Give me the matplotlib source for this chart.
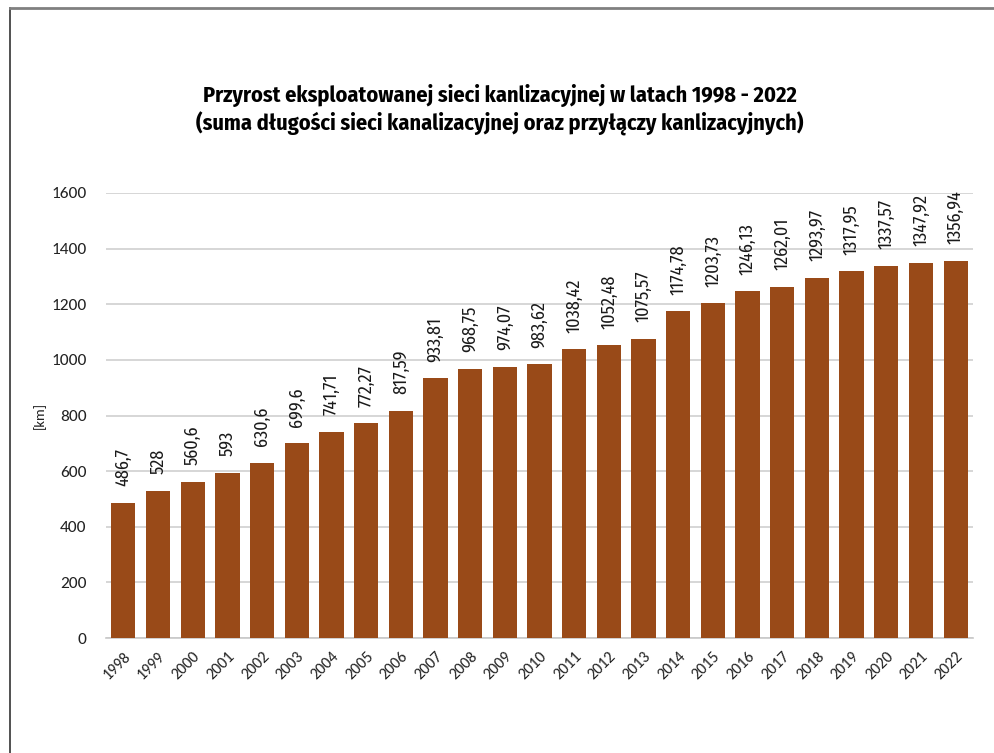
import matplotlib.pyplot as plt
from matplotlib.lines import Line2D

# data
years = [str(y) for y in range(1998, 2023)]
lengths = [486.7, 528, 560.6, 593, 630.6, 699.6, 741.71, 772.27, 817.59, 933.81,
           968.75, 974.07, 983.62, 1038.42, 1052.48, 1075.57, 1174.78, 1203.73,
           1246.13, 1262.01, 1293.97, 1317.95, 1337.57, 1347.92, 1356.94]
yticks = [0, 200, 400, 600, 800, 1000, 1200, 1400, 1600]

title = ("Przyrost eksploatowanej sieci kanlizacyjnej w latach 1998 - 2022\n"
         "(suma długości sieci kanalizacyjnej oraz przyłączy kanlizacyjnych)")

narrow = ['Fira Sans Condensed', 'DejaVu Sans']
plt.rcParams['font.family'] = ['Carlito', 'DejaVu Sans']

fig = plt.figure(figsize=(9.94, 7.53), dpi=100)
ax = fig.add_axes([106 / 994, 1 - 638 / 753, (973 - 106) / 994, (638 - 193) / 753])

x = range(len(years))
bars = ax.bar(x, lengths, width=0.7, color='#994A18', zorder=3)

# rotated value labels, Polish decimal comma
for xi, v in zip(x, lengths):
    lab = f"{v:g}".replace('.', ',')
    ax.annotate(lab, (xi, v), xytext=(0, 12), textcoords='offset points',
                rotation=90, ha='center', va='bottom', fontsize=13,
                family=narrow, color='#1a1a1a')

ax.set_xlim(-0.5, len(years) - 0.5)
ax.set_ylim(0, 1600)
ax.set_yticks(yticks)
ax.set_yticklabels([str(t) for t in yticks], fontsize=12.5, color='#222222')
ax.set_xticks(list(x))
ax.set_xticklabels(years, rotation=45, ha='right', rotation_mode='anchor',
                   fontsize=11.5, color='#222222')
ax.tick_params(axis='both', length=0)
ax.tick_params(axis='y', pad=14)
ax.tick_params(axis='x', pad=8)

ax.grid(axis='y', color='#d0d0d0', linewidth=1.2, zorder=0)
for s in ['top', 'right', 'left']:
    ax.spines[s].set_visible(False)
ax.spines['bottom'].set_color('#c8c8c8')
ax.spines['bottom'].set_linewidth(1.2)

ax.set_ylabel('[km]', fontsize=10.5, color='#222222', labelpad=4)

fig.text(0.503, 1 - 110 / 753, title, ha='center', va='center', fontsize=16,
         fontweight='bold', family=narrow, linespacing=1.25)

# frame lines (left and top)
fig.add_artist(Line2D([10 / 994, 10 / 994], [0, 1 - 8 / 753], transform=fig.transFigure,
                      color='#333333', linewidth=1.2))
fig.add_artist(Line2D([10 / 994, 1], [1 - 8 / 753, 1 - 8 / 753], transform=fig.transFigure,
                      color='#808080', linewidth=2))

fig.savefig('out.png', dpi=100)
